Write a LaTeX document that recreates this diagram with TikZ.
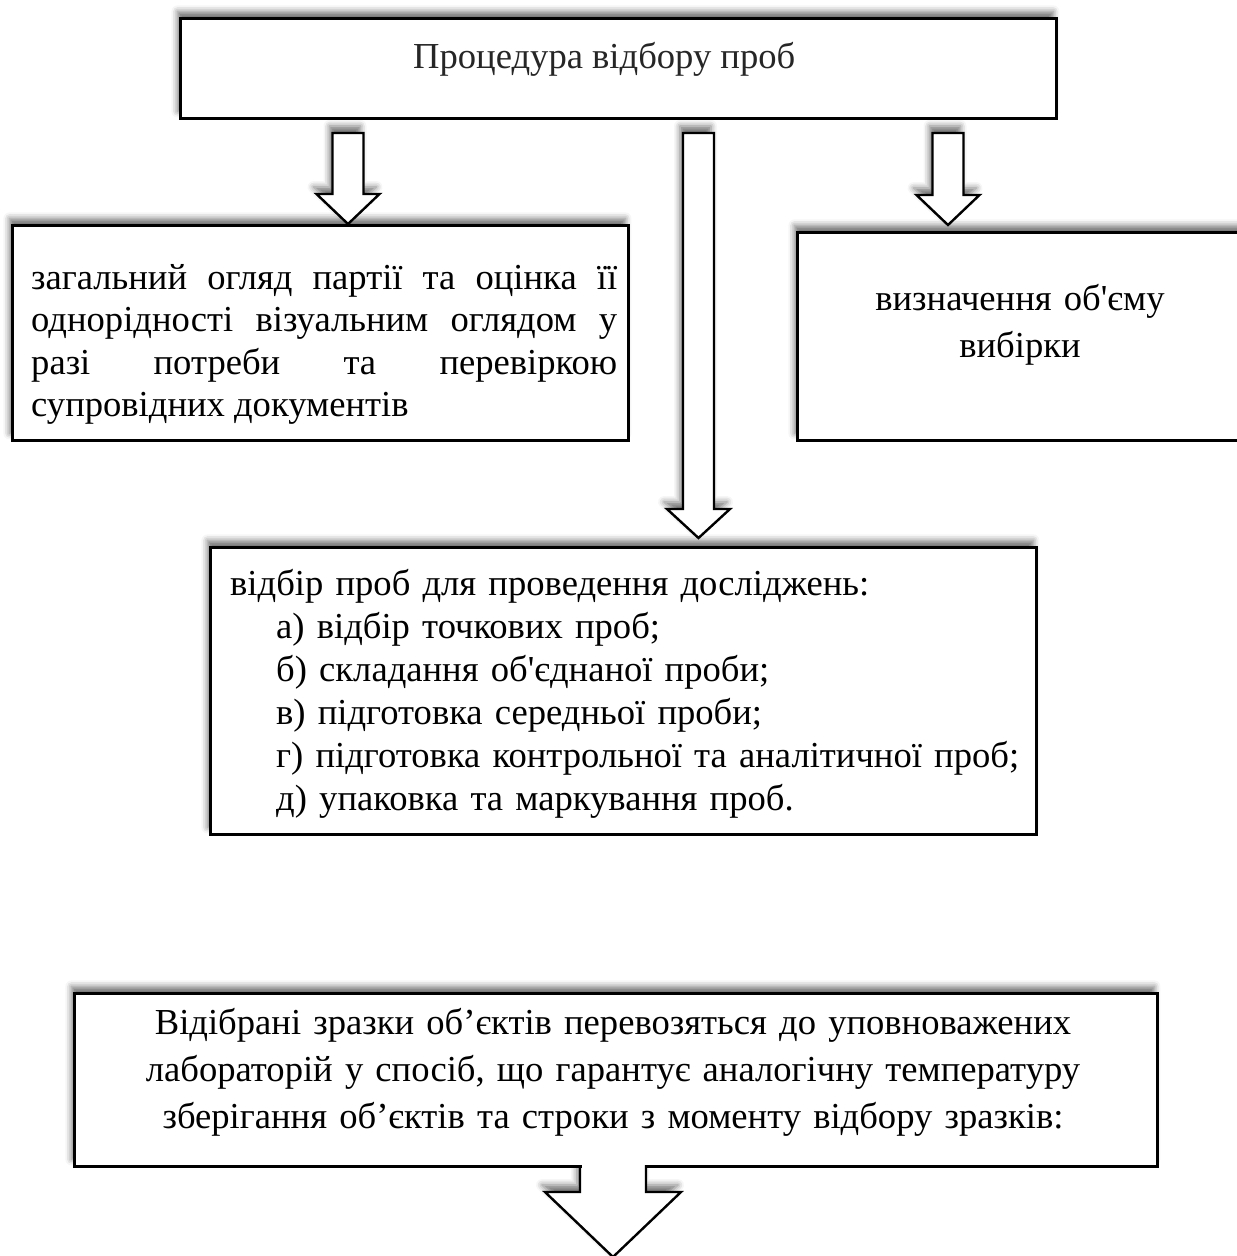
\documentclass[tikz,border=0pt]{standalone}
\usepackage{fontspec}
\setmainfont{Liberation Serif}[Ligatures=TeXOff]
\usetikzlibrary{calc,shadows.blur}

\tikzset{
  box/.style={draw,line width=2.8pt,fill=white,inner sep=0pt,anchor=north west,
    blur shadow={shadow xshift=-3pt,shadow yshift=7pt,shadow blur radius=6pt,shadow opacity=55}},
  boxtext/.style={inner sep=0pt,font=\fontsize{36.6}{43}\selectfont},
  arrowshape/.style={draw,line width=2.4pt,fill=white,line join=miter,
    blur shadow={shadow xshift=-3pt,shadow yshift=7pt,shadow blur radius=6pt,shadow opacity=55}},
  arrowline/.style={draw,line width=2.4pt,line join=miter}
}

% start, tip, half shaft, half head, head length
\newcommand{\blockarrow}[5]{%
  \draw[arrowshape] let \p1=(#1), \p2=(#2) in
    (\x1-#3,\y1) -- (\x1-#3,\y2+#5) -- (\x1-#4,\y2+#5) -- (\x1,\y2)
    -- (\x1+#4,\y2+#5) -- (\x1+#3,\y2+#5) -- (\x1+#3,\y1) -- cycle;
}

\begin{document}
\begin{tikzpicture}[x=1pt,y=-1pt]
\useasboundingbox (0,0) rectangle (1237,1256);

%%% BOXES %%%
\node [box,minimum width=876pt,minimum height=100pt] at (179,17) (proc) {};
\node [box,minimum width=616pt,minimum height=215pt] at (11,224) (survey) {};
\node [box,minimum width=448pt,minimum height=208pt] at (796,231) (volume) {};
\node [box,minimum width=826pt,minimum height=287pt] at (209,546) (sampling) {};

%%% TEXTS %%%
\node [boxtext,anchor=base west,text=black!85] at (413,68) (proctext) {Процедура відбору проб};
\node [boxtext,anchor=base west,text width=586pt,align=justify,
       font=\fontsize{36.6}{42.6}\selectfont] at (31,289) (surveytext)
  {загальний огляд партії та оцінка її\linebreak
   однорідності візуальним оглядом у\linebreak
   разі потреби та перевіркою\linebreak
   супровідних документів};
\node [boxtext,anchor=base,text width=420pt,align=center,
       font=\fontsize{36.6}{47}\selectfont] at (1020,310) (volumetext)
  {визначення об'єму\\вибірки};
\node [boxtext,anchor=base west,text width=800pt,align=left] at (230,595) (samplingtext)
  {відбір проб для проведення досліджень:\\
   \hspace*{46pt}а) відбір точкових проб;\\
   \hspace*{46pt}б) складання об'єднаної проби;\\
   \hspace*{46pt}в) підготовка середньої проби;\\
   \hspace*{46pt}г) підготовка контрольної та аналітичної проб;\\
   \hspace*{46pt}д) упаковка та маркування проб.};

%%% ARROWS %%%
\coordinate (a1) at (348,133);
\coordinate (a1tip) at (348,224);
\coordinate (a2) at (698.5,133);
\coordinate (a2tip) at (698.5,538);
\coordinate (a3) at (948,133);
\coordinate (a3tip) at (948,225);
\blockarrow{a1}{a1tip}{15.5pt}{31.5pt}{30pt}
\blockarrow{a2}{a2tip}{15.5pt}{31.5pt}{29pt}
\blockarrow{a3}{a3tip}{15.5pt}{31.5pt}{30pt}

%%% BOTTOM %%%
\coordinate (a4) at (613,1165);
\coordinate (a4tip) at (613,1257);
\path [arrowshape,draw=none] let \p1=(a4), \p2=(a4tip) in
  (\x1-33pt,\y1) -- (\x1-33pt,\y2+65pt) -- (\x1-68pt,\y2+65pt) -- (\x1,\y2)
  -- (\x1+68pt,\y2+65pt) -- (\x1+33pt,\y2+65pt) -- (\x1+33pt,\y1) -- cycle;
\node [box,minimum width=1083pt,minimum height=173pt] at (73,992) (transport) {};
\node [boxtext,anchor=base,text width=1080pt,align=center,
       font=\fontsize{36.6}{47}\selectfont] at (613,1034) (transporttext)
  {Відібрані зразки об’єктів перевозяться до уповноважених\\
   лабораторій у спосіб, що гарантує аналогічну температуру\\
   зберігання об’єктів та строки з моменту відбору зразків:};
\fill [white] let \p1=(a4) in (\x1-31.5pt,\y1-6pt) rectangle (\x1+31.5pt,\y1+4pt);
\draw [arrowline] let \p1=(a4), \p2=(a4tip) in
  (\x1-33pt,\y1) -- (\x1-33pt,\y2+65pt) -- (\x1-68pt,\y2+65pt) -- (\x1,\y2)
  -- (\x1+68pt,\y2+65pt) -- (\x1+33pt,\y2+65pt) -- (\x1+33pt,\y1);
\end{tikzpicture}
\end{document}
